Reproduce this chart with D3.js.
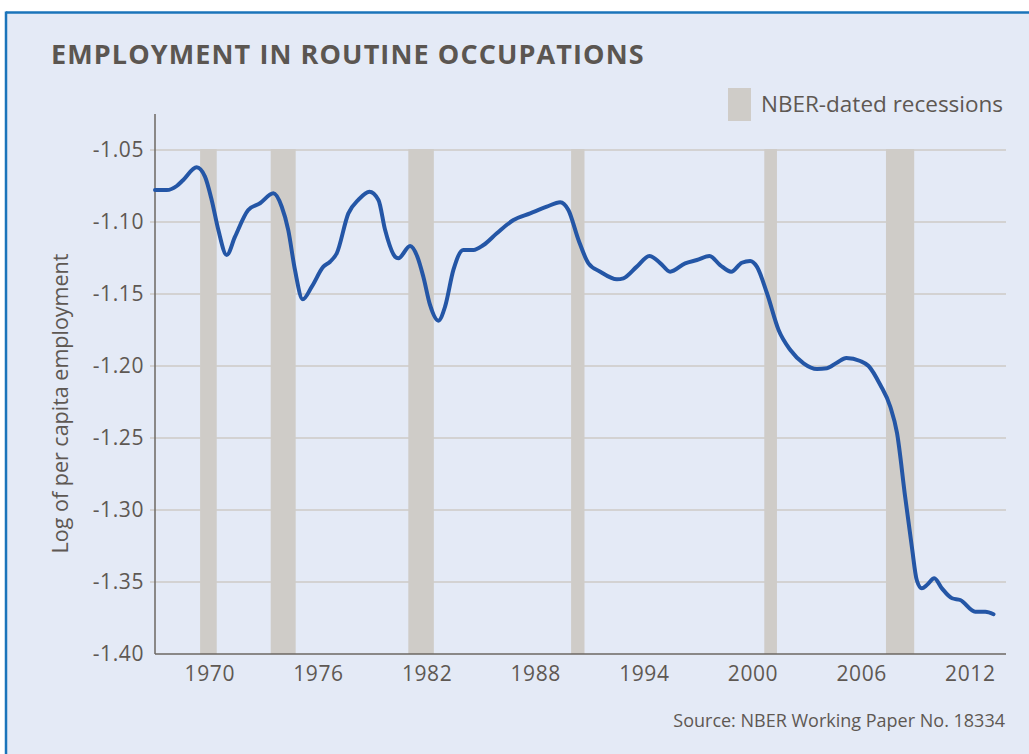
<!DOCTYPE html>
<html>
<head>
<meta charset="utf-8">
<script src="https://cdn.jsdelivr.net/npm/d3@7"></script>
<style>
  html, body { margin: 0; padding: 0; background: #ffffff; }
  svg { display: block; }
  text { font-family: "Open Sans", "Noto Sans", sans-serif; fill: #5e5853; }
</style>
</head>
<body>
<div id="chart"></div>
<script>
// ---- Data ----
const years = [
  1967.00, 1967.65, 1968.20, 1968.56, 1969.30, 1969.76, 1970.13, 1970.50, 1970.96, 1971.42,
  1972.15, 1972.80, 1973.54, 1974.00, 1974.36, 1974.73, 1975.16, 1975.66, 1976.30, 1976.67,
  1977.04, 1977.68, 1978.23, 1978.84, 1979.34, 1979.71, 1980.26, 1980.44, 1981.09, 1981.49,
  1981.82, 1982.19, 1982.65, 1983.02, 1983.48, 1984.03, 1984.59, 1985.14, 1985.88, 1986.80,
  1987.72, 1988.64, 1989.38, 1989.83, 1990.39, 1990.94, 1991.59, 1992.51, 1992.87, 1993.61,
  1994.31, 1994.90, 1995.45, 1996.28, 1996.93, 1997.62, 1998.21, 1998.82, 1999.41, 1999.87,
  2000.24, 2000.80, 2001.44, 2002.09, 2002.82, 2003.56, 2004.11, 2004.66, 2005.18, 2005.95,
  2006.41, 2007.06, 2007.61, 2007.98, 2008.43, 2008.80, 2009.07, 2009.35, 2009.63, 2010.04,
  2010.46, 2011.02, 2011.47, 2012.30, 2012.86, 2013.31
];
const logEmployment = [
  -1.0778, -1.0778, -1.0750, -1.0708, -1.0620, -1.0685, -1.0847, -1.1056, -1.1229, -1.1102,
  -1.0917, -1.0870, -1.0801, -1.0894, -1.1056, -1.1333, -1.1537, -1.1449, -1.1310, -1.1276,
  -1.1217, -1.0940, -1.0847, -1.0790, -1.0847, -1.1056, -1.1241, -1.1252, -1.1167, -1.1241,
  -1.1380, -1.1576, -1.1685, -1.1588, -1.1333, -1.1194, -1.1194, -1.1160, -1.1078, -1.0986,
  -1.0940, -1.0894, -1.0863, -1.0917, -1.1125, -1.1287, -1.1345, -1.1398, -1.1391, -1.1310,
  -1.1236, -1.1285, -1.1345, -1.1287, -1.1264, -1.1236, -1.1299, -1.1345, -1.1283, -1.1271,
  -1.1310, -1.1495, -1.1750, -1.1889, -1.1981, -1.2021, -1.2016, -1.1977, -1.1944, -1.1965,
  -1.2000, -1.2132, -1.2283, -1.2465, -1.2908, -1.3255, -1.3486, -1.3544, -1.3521, -1.3474,
  -1.3544, -1.3613, -1.3625, -1.3706, -1.3706, -1.3724
];
const recessionStarts = [1969.49, 1973.39, 1980.99, 1989.98, 2000.65, 2007.37];
const recessionEnds   = [1970.41, 1974.77, 1982.40, 1990.72, 2001.35, 2008.93];
const xTickYears = [1970, 1976, 1982, 1988, 1994, 2000, 2006, 2012];
const yTickValues = [-1.05, -1.10, -1.15, -1.20, -1.25, -1.30, -1.35, -1.40];
const yTickLabels = ["-1.05", "-1.10", "-1.15", "-1.20", "-1.25", "-1.30", "-1.35", "-1.40"];

const titleText = "EMPLOYMENT IN ROUTINE OCCUPATIONS";
const legendText = "NBER-dated recessions";
const yAxisTitle = "Log of per capita employment";
const sourceText = "Source: NBER Working Paper No. 18334";

// ---- Layout ----
const W = 1029, H = 754;
const plotLeft = 155, plotRight = 1006, plotTop = 114, plotBottom = 654;

const svg = d3.select("#chart").append("svg")
  .attr("width", W).attr("height", H);

// background panel with blue border on top/left
svg.append("rect").attr("x", 0).attr("y", 0).attr("width", W).attr("height", H).attr("fill", "#ffffff");
svg.append("rect").attr("x", 6).attr("y", 12).attr("width", W - 6).attr("height", H - 12).attr("fill", "#e4eaf6");
svg.append("line").attr("x1", 6).attr("x2", W).attr("y1", 12.5).attr("y2", 12.5)
  .attr("stroke", "#1b74ba").attr("stroke-width", 2.5);
svg.append("line").attr("x1", 6).attr("x2", 6).attr("y1", 11.5).attr("y2", H)
  .attr("stroke", "#1b74ba").attr("stroke-width", 2.5);

const x = d3.scaleLinear().domain([1967, 2014]).range([plotLeft, plotRight]);
const y = d3.scaleLinear().domain([-1.40, -1.05]).range([plotBottom, 150]);

// Title
svg.append("text")
  .attr("x", 51).attr("y", 64)
  .attr("font-size", 27).attr("font-weight", 700)
  .attr("letter-spacing", 1.1)
  .style("fill", "#5b5651")
  .text(titleText);

// Legend
svg.append("rect").attr("x", 728).attr("y", 88).attr("width", 23).attr("height", 33).attr("fill", "#cfccc8");
svg.append("text").attr("x", 761).attr("y", 112).attr("font-size", 22.5).text(legendText);

// gridlines
svg.append("g").selectAll("line").data(yTickValues.filter(v => v > -1.40)).join("line")
  .attr("x1", plotLeft - 5).attr("x2", plotRight)
  .attr("y1", d => y(d)).attr("y2", d => y(d))
  .attr("stroke", "#d3d2d2").attr("stroke-width", 2);

// recession bars
svg.append("g").selectAll("rect").data(recessionStarts).join("rect")
  .attr("x", (d) => x(d))
  .attr("width", (d, i) => x(recessionEnds[i]) - x(d))
  .attr("y", y(-1.05) - 1)
  .attr("height", y(-1.40) - y(-1.05) + 1)
  .attr("fill", "#cfccc8");

// axes
const yAxis = d3.axisLeft(y).tickValues(yTickValues)
  .tickFormat((d, i) => yTickLabels[i]).tickSize(0).tickPadding(11);
const gy = svg.append("g").attr("transform", `translate(${plotLeft},0)`).call(yAxis);
gy.select(".domain").remove();
gy.selectAll("text").attr("font-size", 21).attr("font-family", "Open Sans").style("fill", "#5e5853")
  .attr("letter-spacing", 0.6);
svg.append("line").attr("x1", plotLeft).attr("x2", plotLeft).attr("y1", plotTop).attr("y2", plotBottom)
  .attr("stroke", "#6d6762").attr("stroke-width", 1.5);

const xAxis = d3.axisBottom(x).tickValues(xTickYears).tickFormat(d3.format("d")).tickSize(0).tickPadding(12);
const gx = svg.append("g").attr("transform", `translate(0,${plotBottom})`).call(xAxis);
gx.select(".domain").remove();
gx.selectAll("text").attr("font-size", 21).attr("font-family", "Open Sans").style("fill", "#5e5853")
  .attr("letter-spacing", 0.6);
svg.append("line").attr("x1", plotLeft).attr("x2", plotRight).attr("y1", plotBottom).attr("y2", plotBottom)
  .attr("stroke", "#6d6762").attr("stroke-width", 1.5);

// Y axis title
svg.append("text")
  .attr("transform", `translate(68,${(245 + 562) / 2}) rotate(-90)`)
  .attr("text-anchor", "middle")
  .attr("font-size", 21.5)
  .text(yAxisTitle);

// line
const pts = years.map((yr, i) => [yr, logEmployment[i]]);
const lineGen = d3.line().x(d => x(d[0])).y(d => y(d[1])).curve(d3.curveMonotoneX);
svg.append("path").datum(pts)
  .attr("d", lineGen)
  .attr("fill", "none")
  .attr("stroke", "#2456a6")
  .attr("stroke-width", 4)
  .attr("stroke-linejoin", "round")
  .attr("stroke-linecap", "round");

// Source
svg.append("text").attr("x", 1005).attr("y", 727).attr("text-anchor", "end")
  .attr("font-size", 18).text(sourceText);
</script>
</body>
</html>
